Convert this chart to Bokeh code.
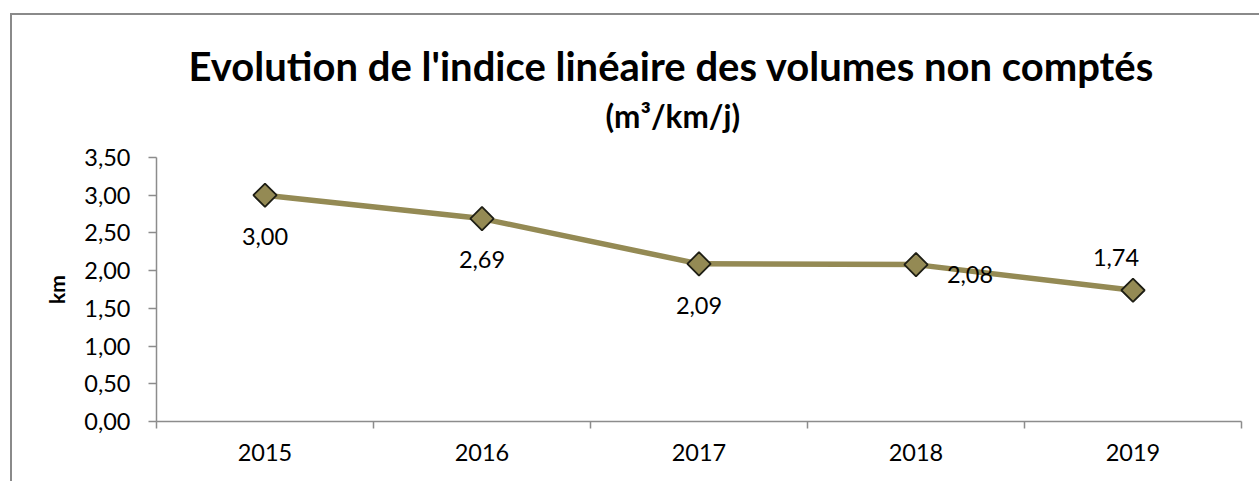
from bokeh.plotting import figure
from bokeh.models import (Range1d, FixedTicker, CustomJSTickFormatter, Title,
                          ColumnDataSource, LinearAxis)
from bokeh.core.properties import value
from bokeh.embed import file_html
from bokeh.resources import INLINE
import math

# ---- data ----
years = ["2015", "2016", "2017", "2018", "2019"]
values = [3.00, 2.69, 2.09, 2.08, 1.74]
y_ticks = [0.0, 0.5, 1.0, 1.5, 2.0, 2.5, 3.0, 3.5]
title_text = "Evolution de l'indice linéaire des volumes non comptés"
subtitle_text = "(m³/km/j)"
y_label = "km"

# label placement (screen px offsets, style only)
label_dx = [0, 0, 0, 54, -17]
label_dy = [41, 41, 42, 10, -33]

FONT = "Lato"
OLIVE = "#948A54"
GRID = "#8c8c8c"
FS = "23.5px"

xs = [i + 0.5 for i in range(len(years))]
labels = [f"{v:.2f}".replace(".", ",") for v in values]
src = ColumnDataSource(dict(x=xs, y=values, lab=labels, dx=label_dx, dy=label_dy))

p = figure(width=1259, height=481, output_backend="svg", toolbar_location=None,
           x_range=Range1d(0, len(years)), y_range=Range1d(y_ticks[0], y_ticks[-1]),
           x_axis_type=None, y_axis_type=None, title=None)
p.min_border_left = 156
p.min_border_right = 18
p.min_border_top = 157
p.min_border_bottom = 60
p.outline_line_color = None
p.background_fill_color = "white"
p.border_fill_color = None
p.styles = {"box-shadow": "inset 10px 13px 0 0 #ffffff, inset 12px 15px 0 0 #8a8a8a"}

# x axis: labels at centers, ticks at boundaries
xaxis = LinearAxis(
    ticker=FixedTicker(ticks=xs, minor_ticks=[float(i) for i in range(len(years) + 1)]),
    formatter=CustomJSTickFormatter(args=dict(labels=years), code="return labels[Math.floor(tick)];"),
)
xaxis.axis_line_color = GRID
xaxis.axis_line_width = 1.5
xaxis.major_tick_line_color = None
xaxis.major_tick_out = 0
xaxis.major_tick_in = 0
xaxis.minor_tick_line_color = GRID
xaxis.minor_tick_line_width = 1.5
xaxis.minor_tick_out = 7
xaxis.minor_tick_in = 0
xaxis.major_label_standoff = 15
xaxis.major_label_text_font = FONT
xaxis.major_label_text_font_size = FS
xaxis.major_label_text_color = "black"
p.add_layout(xaxis, "below")

yaxis = LinearAxis(
    ticker=FixedTicker(ticks=y_ticks, minor_ticks=[]),
    formatter=CustomJSTickFormatter(code="return tick.toFixed(2).replace('.', ',');"),
)
yaxis.axis_line_color = GRID
yaxis.axis_line_width = 1.5
yaxis.major_tick_line_color = GRID
yaxis.major_tick_line_width = 1.5
yaxis.major_tick_out = 8
yaxis.major_tick_in = 0
yaxis.minor_tick_line_color = None
yaxis.major_label_standoff = 18
yaxis.major_label_text_font = FONT
yaxis.major_label_text_font_size = FS
yaxis.major_label_text_color = "black"
yaxis.axis_label = y_label
yaxis.axis_label_text_font = FONT
yaxis.axis_label_text_font_size = "21px"
yaxis.axis_label_text_font_style = "bold"
yaxis.axis_label_text_color = "black"
yaxis.axis_label_standoff = 12
p.add_layout(yaxis, "left")

p.ygrid.ticker = FixedTicker(ticks=y_ticks[1:])
p.ygrid.grid_line_color = GRID
p.ygrid.grid_line_width = 1.5
p.xgrid.grid_line_color = None

p.line("x", "y", source=src, line_color=OLIVE, line_width=5.5)
p.scatter("x", "y", source=src, marker="square", angle=math.pi / 4, size=16.5,
          fill_color=OLIVE, line_color="#1e1e14", line_width=1.8)
p.text("x", "y", text="lab", source=src, x_offset="dx", y_offset="dy",
       text_align="center", text_baseline="middle",
       text_font=value(FONT), text_font_size=FS, text_color="black")

# titles (inner panel first = closest to the frame)
p.add_layout(Title(text=subtitle_text, align="left", offset=449, standoff=46,
                   text_font=FONT, text_font_size="31.5px", text_font_style="bold",
                   text_color="black"), "above")
p.add_layout(Title(text=title_text, align="left", offset=32, standoff=-36,
                   text_font=FONT, text_font_size="40px", text_font_style="bold",
                   text_color="black"), "above")

open("out.html", "w").write(file_html(p, INLINE))
